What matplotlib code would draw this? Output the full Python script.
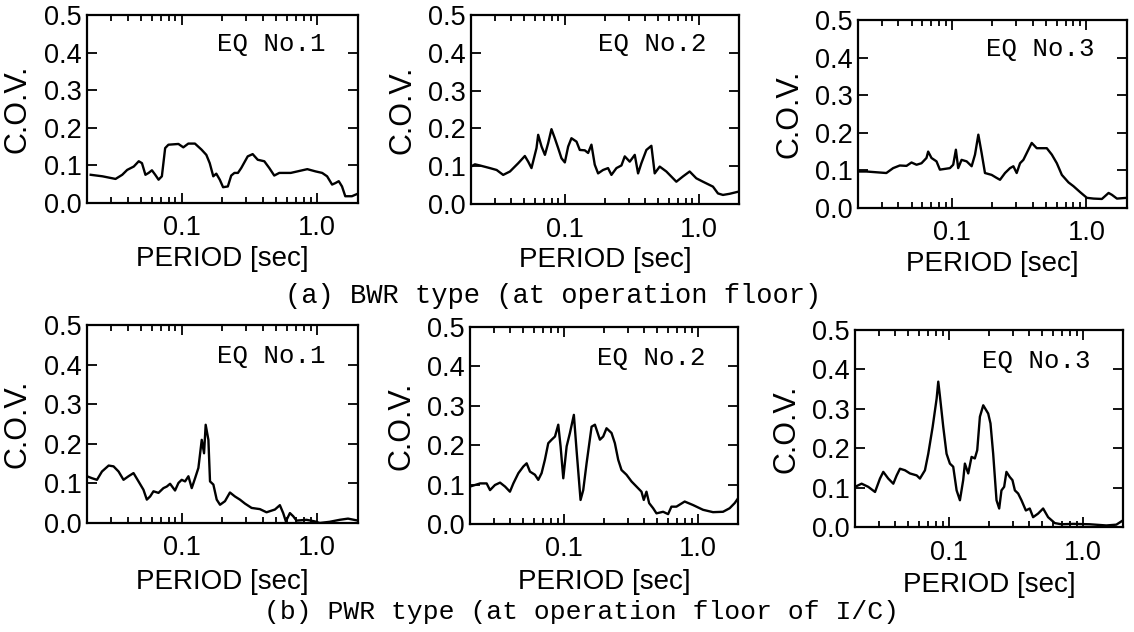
import numpy as np
import matplotlib
matplotlib.use("Agg")
import matplotlib.pyplot as plt
from matplotlib.ticker import LogLocator, NullFormatter

# (a) BWR type, EQ No.1
period_bwr1 = [0.0213, 0.026, 0.0325, 0.0364, 0.0396, 0.0443, 0.0482, 0.0509, 0.054,
               0.057, 0.0603, 0.0638, 0.0675, 0.0714, 0.0755, 0.0798, 0.0946, 0.1028,
               0.1119, 0.1252, 0.140, 0.152, 0.161, 0.171, 0.180, 0.191, 0.202, 0.219,
               0.232, 0.245, 0.260, 0.275, 0.307, 0.334, 0.364, 0.407, 0.443, 0.482,
               0.525, 0.638, 0.755, 0.845, 0.973, 1.088, 1.183, 1.288, 1.362, 1.442,
               1.524, 1.611, 1.803, 2.0]
cov_bwr1 = [0.075, 0.071, 0.064, 0.075, 0.088, 0.097, 0.111, 0.106, 0.075, 0.080,
            0.087, 0.075, 0.062, 0.071, 0.146, 0.155, 0.157, 0.148, 0.158, 0.158,
            0.142, 0.128, 0.106, 0.071, 0.078, 0.062, 0.042, 0.044, 0.073, 0.080,
            0.080, 0.093, 0.124, 0.130, 0.115, 0.111, 0.093, 0.073, 0.080, 0.080,
            0.086, 0.090, 0.084, 0.080, 0.071, 0.049, 0.053, 0.058, 0.044, 0.018,
            0.018, 0.025]

# (a) BWR type, EQ No.2
period_bwr2 = [0.020, 0.0214, 0.0233, 0.0277, 0.0311, 0.0348, 0.0391, 0.0451, 0.0505,
               0.0535, 0.0566, 0.0617, 0.0635, 0.0673, 0.0713, 0.0754, 0.0798, 0.0845,
               0.0895, 0.0948, 0.1004, 0.1063, 0.1125, 0.1227, 0.1298, 0.1415, 0.1498,
               0.1586, 0.1679, 0.1778, 0.1937, 0.211, 0.2236, 0.2437, 0.2656, 0.2812,
               0.3064, 0.3339, 0.3535, 0.3742, 0.4078, 0.4443, 0.4704, 0.5126, 0.5747,
               0.6823, 0.765, 0.8577, 0.9616, 1.078, 1.280, 1.395, 1.520, 1.704, 2.0]
cov_bwr2 = [0.099, 0.105, 0.102, 0.095, 0.090, 0.077, 0.086, 0.108, 0.127, 0.112,
            0.095, 0.148, 0.183, 0.152, 0.130, 0.161, 0.198, 0.174, 0.148, 0.121,
            0.110, 0.152, 0.174, 0.165, 0.143, 0.142, 0.135, 0.157, 0.104, 0.081,
            0.090, 0.095, 0.077, 0.095, 0.102, 0.126, 0.112, 0.130, 0.081, 0.108,
            0.143, 0.154, 0.081, 0.099, 0.086, 0.059, 0.073, 0.086, 0.068, 0.059,
            0.046, 0.028, 0.024, 0.027, 0.033]

# (a) BWR type, EQ No.3
period_bwr3 = [0.0203, 0.0231, 0.0274, 0.0325, 0.0365, 0.0409, 0.0459, 0.050, 0.0545,
               0.0593, 0.0646, 0.0665, 0.0704, 0.0767, 0.0813, 0.0886, 0.0965, 0.1021,
               0.1069, 0.1112, 0.1178, 0.1285, 0.140, 0.1483, 0.157, 0.1661, 0.1759,
               0.1972, 0.2148, 0.2275, 0.2479, 0.2701, 0.286, 0.3027, 0.3206, 0.3394,
               0.3698, 0.3916, 0.4268, 0.4651, 0.5068, 0.5523, 0.6019, 0.6559, 0.735,
               0.800, 0.898, 1.007, 1.129, 1.302, 1.460, 1.546, 1.684, 2.0]
cov_bwr3 = [0.097, 0.097, 0.095, 0.093, 0.106, 0.113, 0.112, 0.121, 0.115, 0.119,
            0.133, 0.150, 0.133, 0.124, 0.102, 0.104, 0.106, 0.115, 0.155, 0.106,
            0.128, 0.124, 0.111, 0.142, 0.195, 0.146, 0.093, 0.088, 0.080, 0.075,
            0.093, 0.106, 0.111, 0.093, 0.119, 0.128, 0.155, 0.173, 0.159, 0.159,
            0.159, 0.142, 0.119, 0.088, 0.068, 0.058, 0.042, 0.027, 0.025, 0.024,
            0.040, 0.035, 0.025, 0.027]

# (b) PWR type, EQ No.1
period_pwr1 = [0.020, 0.0218, 0.0237, 0.0258, 0.0289, 0.0314, 0.0342, 0.0372, 0.0405,
               0.0441, 0.048, 0.0522, 0.0553, 0.0585, 0.0619, 0.0674, 0.0733, 0.0776,
               0.0821, 0.0893, 0.0946, 0.100, 0.1059, 0.1121, 0.1186, 0.1255, 0.1328,
               0.1406, 0.1462, 0.1503, 0.1574, 0.1618, 0.1713, 0.1813, 0.1918, 0.2086,
               0.227, 0.247, 0.2689, 0.2929, 0.3281, 0.3776, 0.4227, 0.4875, 0.5302,
               0.561, 0.5871, 0.6288, 0.6653, 0.7036, 0.8337, 0.9594, 1.044, 1.236,
               1.465, 1.687, 2.0]
cov_pwr1 = [0.118, 0.113, 0.109, 0.130, 0.145, 0.143, 0.130, 0.109, 0.118, 0.126,
            0.105, 0.084, 0.059, 0.067, 0.080, 0.076, 0.088, 0.092, 0.099, 0.082,
            0.101, 0.109, 0.105, 0.118, 0.088, 0.113, 0.139, 0.210, 0.176, 0.248,
            0.210, 0.105, 0.097, 0.059, 0.046, 0.055, 0.077, 0.067, 0.059, 0.049,
            0.038, 0.035, 0.027, 0.034, 0.045, 0.025, 0.004, 0.025, 0.017, 0.006,
            0.008, 0.004, 0.000, 0.003, 0.008, 0.011, 0.006]

# (b) PWR type, EQ No.2
period_pwr2 = [0.020, 0.0218, 0.0238, 0.0266, 0.0282, 0.0307, 0.0335, 0.0365, 0.0397,
               0.0421, 0.0459, 0.050, 0.0529, 0.056, 0.061, 0.0646, 0.0684, 0.0724,
               0.0767, 0.0813, 0.0861, 0.0911, 0.0948, 0.0993, 0.1052, 0.1113, 0.1191,
               0.1247, 0.1336, 0.1399, 0.1482, 0.1615, 0.171, 0.1863, 0.1972, 0.2088,
               0.2275, 0.241, 0.2552, 0.2701, 0.2943, 0.3207, 0.3494, 0.3807, 0.396,
               0.4147, 0.4343, 0.4651, 0.4925, 0.5521, 0.6016, 0.637, 0.694, 0.800,
               0.9246, 1.097, 1.302, 1.546, 1.733, 1.889, 2.0]
cov_pwr2 = [0.095, 0.099, 0.103, 0.103, 0.086, 0.099, 0.105, 0.095, 0.082, 0.103,
            0.129, 0.146, 0.154, 0.133, 0.125, 0.112, 0.129, 0.163, 0.205, 0.214,
            0.222, 0.252, 0.197, 0.116, 0.197, 0.231, 0.277, 0.188, 0.061, 0.086,
            0.154, 0.247, 0.252, 0.214, 0.222, 0.243, 0.231, 0.205, 0.163, 0.137,
            0.125, 0.108, 0.095, 0.082, 0.061, 0.082, 0.053, 0.040, 0.027, 0.031,
            0.025, 0.044, 0.044, 0.057, 0.048, 0.036, 0.030, 0.031, 0.040, 0.053,
            0.065]

# (b) PWR type, EQ No.3
period_pwr3 = [0.020, 0.0224, 0.0251, 0.0282, 0.0307, 0.0325, 0.0354, 0.0386, 0.0409,
               0.0433, 0.0472, 0.0514, 0.0577, 0.061, 0.0665, 0.0704, 0.0759, 0.0813,
               0.0836, 0.0861, 0.0911, 0.0964, 0.1021, 0.1081, 0.1146, 0.1213, 0.1283,
               0.1321, 0.1399, 0.1482, 0.1567, 0.1633, 0.171, 0.1811, 0.1972, 0.2051,
               0.2148, 0.2275, 0.2382, 0.2477, 0.2594, 0.2698, 0.2857, 0.2992, 0.3119,
               0.330, 0.3493, 0.3767, 0.4027, 0.4266, 0.4645, 0.5069, 0.5521, 0.6194,
               0.6937, 0.8478, 1.129, 1.503, 1.783, 2.0]
cov_pwr3 = [0.102, 0.110, 0.102, 0.089, 0.123, 0.140, 0.123, 0.110, 0.131, 0.148,
            0.144, 0.136, 0.131, 0.123, 0.144, 0.186, 0.254, 0.326, 0.369, 0.331,
            0.254, 0.186, 0.161, 0.153, 0.093, 0.068, 0.119, 0.161, 0.136, 0.178,
            0.174, 0.195, 0.280, 0.309, 0.288, 0.263, 0.186, 0.068, 0.047, 0.093,
            0.102, 0.140, 0.127, 0.119, 0.093, 0.085, 0.068, 0.042, 0.047, 0.025,
            0.034, 0.047, 0.025, 0.010, 0.007, 0.008, 0.007, 0.004, 0.006, 0.017]

eq_labels = ["EQ No.1", "EQ No.2", "EQ No.3"]
captions = ["(a) BWR type (at operation floor)",
            "(b) PWR type (at operation floor of I/C)"]

series = [(period_bwr1, cov_bwr1), (period_bwr2, cov_bwr2), (period_bwr3, cov_bwr3),
          (period_pwr1, cov_pwr1), (period_pwr2, cov_pwr2), (period_pwr3, cov_pwr3)]

# axes boxes in figure fractions [left, bottom, width, height]
boxes = [[0.0767, 0.6788, 0.2390, 0.2975],
         [0.4153, 0.6772, 0.2363, 0.2991],
         [0.7566, 0.6709, 0.2372, 0.2975],
         [0.0767, 0.1725, 0.2390, 0.3133],
         [0.4145, 0.1709, 0.2363, 0.3117],
         [0.7540, 0.1661, 0.2363, 0.3117]]

sans = "Liberation Sans"
mono = "Liberation Mono"

fig = plt.figure(figsize=(11.34, 6.32), dpi=100)

for i, (per, cov) in enumerate(series):
    ax = fig.add_axes(boxes[i])
    ax.plot(per, cov, color="black", lw=1.7)
    ax.set_xscale("log")
    ax.set_xlim(0.02, 2.0)
    ax.set_ylim(0.0, 0.5)
    ax.set_yticks(np.arange(0, 0.51, 0.1))
    ax.set_yticklabels(["%.1f" % v for v in np.arange(0, 0.51, 0.1)])
    ax.set_xticks([0.1, 1.0])
    ax.set_xticklabels(["0.1", "1.0"])
    ax.xaxis.set_minor_locator(LogLocator(base=10, subs=np.arange(2, 10)))
    ax.xaxis.set_minor_formatter(NullFormatter())
    ax.tick_params(which="both", direction="in", top=True, right=True,
                   width=1.3, labelsize=19.5)
    ax.tick_params(which="major", length=7)
    ax.tick_params(which="minor", length=4)
    ax.tick_params(axis="x", pad=9)
    ax.tick_params(axis="y", pad=4)
    for lbl in ax.get_xticklabels() + ax.get_yticklabels():
        lbl.set_family(sans)
    for s in ax.spines.values():
        s.set_linewidth(1.6)
    ax.set_ylabel("C.O.V.", fontsize=22, family=sans)
    ax.yaxis.set_label_coords(-0.2, 0.5)
    ax.set_xlabel("PERIOD [sec]", fontsize=20, family=sans)
    ax.xaxis.set_label_coords(0.5, -0.23)
    ax.text(0.88, 0.845, eq_labels[i % 3], transform=ax.transAxes,
            ha="right", va="center", fontsize=18.5, family=mono)

fig.text(553 / 1134, 1 - 296 / 632, captions[0], ha="center", va="center",
         fontsize=19.5, family=mono)
fig.text(582 / 1134, 1 - 612 / 632, captions[1], ha="center", va="center",
         fontsize=19, family=mono)

fig.savefig("out.png", dpi=100)
